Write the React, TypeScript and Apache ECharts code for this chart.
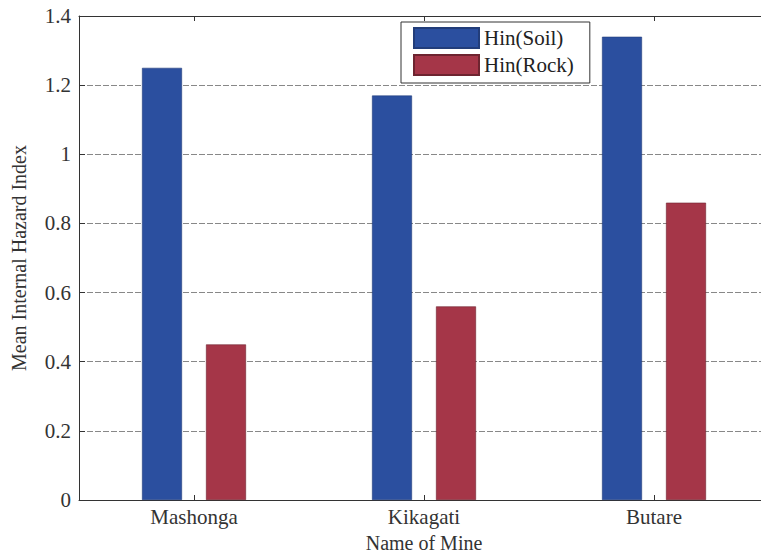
import React, { useEffect, useRef } from "react";
import * as echarts from "echarts";

const categories = ["Mashonga", "Kikagati", "Butare"];
const soilValues = [1.25, 1.17, 1.34];
const rockValues = [0.45, 0.56, 0.86];
const yTicks = { min: 0, max: 1.4, interval: 0.2 };

const FONT = "Liberation Serif";

export default function App() {
  const ref = useRef<HTMLDivElement>(null);
  useEffect(() => {
    if (!ref.current) return;
    const chart = echarts.init(ref.current, null, { renderer: "svg" });
    chart.setOption({
      animation: false,
      backgroundColor: "#ffffff",
      textStyle: { fontFamily: FONT },
      grid: {
        left: 79,
        top: 16,
        width: 690,
        height: 484,
        outerBoundsMode: "none",
        containLabel: false,
      },
      legend: {
        left: 401,
        top: 22,
        orient: "vertical",
        itemWidth: 65,
        itemHeight: 20,
        itemGap: 5,
        padding: [5, 16, 7, 12],
        borderColor: "#333",
        borderWidth: 1,
        backgroundColor: "#fff",
        icon: "rect",
        textStyle: { fontFamily: FONT, fontSize: 21, color: "#222" },
        data: ["Hin(Soil)", "Hin(Rock)"],
      },
      xAxis: [
        {
          type: "category",
          data: categories,
          name: "Name of Mine",
          nameLocation: "middle",
          nameGap: 33,
          nameTextStyle: { fontFamily: FONT, fontSize: 20, color: "#333" },
          axisLine: { show: true, lineStyle: { color: "#333", width: 1 } },
          axisTick: { show: true, inside: true, alignWithLabel: true, length: 5, lineStyle: { color: "#333" } },
          axisLabel: { fontFamily: FONT, fontSize: 21, color: "#333", margin: 6 },
          splitLine: { show: false },
        },
        {
          type: "category",
          data: categories,
          position: "top",
          axisLine: { show: true, lineStyle: { color: "#333", width: 1 } },
          axisTick: { show: true, inside: true, alignWithLabel: true, length: 5, lineStyle: { color: "#333" } },
          axisLabel: { show: false },
          splitLine: { show: false },
        },
      ],
      yAxis: {
        type: "value",
        min: yTicks.min,
        max: yTicks.max,
        interval: yTicks.interval,
        name: "Mean Internal Hazard Index",
        nameLocation: "middle",
        nameGap: 50,
        nameTextStyle: { fontFamily: FONT, fontSize: 20, color: "#333" },
        axisLine: { show: true, lineStyle: { color: "#333", width: 1 } },
        axisTick: { show: true, inside: true, length: 6, lineStyle: { color: "#333" } },
        axisLabel: {
          fontFamily: FONT,
          fontSize: 21,
          color: "#333",
          margin: 8,
          formatter: (v: number) => (Math.abs(v - Math.round(v)) < 1e-9 ? String(Math.round(v)) : v.toFixed(1)),
        },
        splitLine: { show: true, lineStyle: { color: "#888", width: 1, type: [6, 2] } },
      },
      series: [
        {
          name: "Hin(Soil)",
          type: "bar",
          data: soilValues,
          barWidth: 40,
          barGap: "60%",
          itemStyle: { color: "#2b4f9f", borderColor: "#223d7a", borderWidth: 0.6 },
        },
        {
          name: "Hin(Rock)",
          type: "bar",
          data: rockValues,
          barWidth: 40,
          itemStyle: { color: "#a53648", borderColor: "#6e2430", borderWidth: 0.6 },
        },
      ],
    });
    return () => chart.dispose();
  }, []);
  return (
    <div
      ref={ref}
      style={{ position: "fixed", left: 0, top: 0, width: 761, height: 553 }}
    />
  );
}
